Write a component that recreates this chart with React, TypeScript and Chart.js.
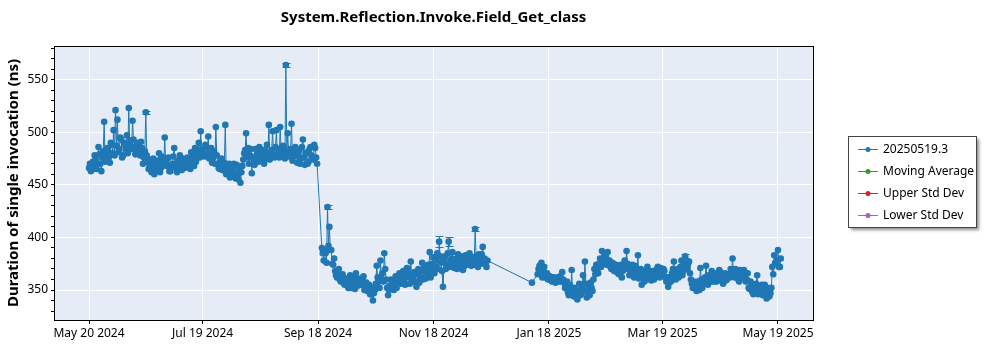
import React, { useEffect, useRef } from "react";
import { Chart, registerables } from "chart.js";

Chart.register(...registerables);

const DAY = 86400000;
const FONT = "'Noto Sans', 'Open Sans', sans-serif";

const chartTitle = "System.Reflection.Invoke.Field_Get_class";
const yAxisTitle = "Duration of single invocation (ns)";
const seriesLabels = ["20250519.3", "Moving Average", "Upper Std Dev", "Lower Std Dev"];
const seriesColors = ["#1f77b4", "#2ca02c", "#d62728", "#9467bd"];

// morning runs, May 20 2024 -> Sep 17 2024
const seg1Start = "2024-05-20";
const seg1Values = [
  466, 463, 472, 478, 465, 486, 470, 476, 510, 478,
  482, 471, 488, 502, 521, 512, 484, 493, 478, 488,
  497, 523, 492, 511, 486, 481, 490, 478, 485, 476,
  519, 472, 468, 462, 475, 465, 470, 480, 466, 472,
  495, 468, 476, 463, 470, 485, 466, 473, 478, 464,
  470, 467, 476, 472, 481, 474, 485, 478, 490, 501,
  484, 477, 486, 496, 478, 471, 482, 505, 470, 465,
  475, 468, 507, 462, 470, 458, 466, 461, 469, 455,
  452, 468, 480, 499, 485, 478, 461, 474, 484, 480,
  486, 477, 483, 474, 488, 507, 480, 501, 476, 502,
  484, 505, 478, 485, 564, 499, 481, 508, 477, 486,
  471, 483, 475, 493, 469, 481, 472, 486, 477, 488,
  476,
];
// evening runs, same days
const seg1Values2 = [
  470, 468, 465, 474, 470, 479, 463, 482, 472, 485,
  476, 490, 480, 478, 487, 481, 495, 476, 490, 484,
  480, 488, 484, 493, 479, 488, 483, 491, 470, 482,
  478, 465, 474, 470, 460, 468, 473, 462, 477, 469,
  471, 475, 463, 468, 477, 470, 462, 468, 470, 475,
  466, 474, 469, 465, 477, 468, 472, 483, 476, 482,
  479, 488, 480, 475, 485, 476, 470, 478, 466, 472,
  464, 471, 460, 467, 457, 463, 470, 456, 460, 466,
  462, 474, 483, 476, 470, 484, 476, 469, 478, 472,
  475, 481, 470, 480, 478, 474, 483, 478, 486, 479,
  476, 482, 487, 475, 480, 477, 484, 473, 481, 479,
  478, 470, 486, 476, 480, 470, 484, 478, 474, 485,
  470,
];

// morning runs, Sep 20 2024 -> Dec 16 2024
const seg2Start = "2024-09-20";
const seg2Values = [
  390, 378, 385, 429, 410, 388, 374, 368, 362, 370,
  358, 365, 355, 361, 352, 364, 358, 356, 366, 354,
  360, 357, 363, 352, 349, 355, 346, 340, 350, 373,
  358, 378, 366, 385, 360, 345, 354, 358, 350, 363,
  356, 366, 359, 368, 355, 371, 362, 377, 358, 367,
  353, 370, 362, 376, 368, 361, 374, 386, 370, 381,
  372, 385, 396, 376, 353, 382, 374, 396, 378, 386,
  371, 380, 384, 374, 378, 372, 383, 376, 385, 373,
  380, 408, 378, 384, 375, 391, 380, 372,
];
const seg2Values2 = [
  385, 388, 376, 392, 388, 375, 380, 364, 367, 360,
  363, 357, 360, 355, 360, 352, 362, 351, 358, 361,
  355, 360, 350, 357, 353, 346, 352, 347, 356, 362,
  352, 360, 358, 370, 352, 350, 360, 353, 360, 352,
  361, 356, 363, 358, 364, 367, 356, 362, 364, 358,
  365, 357, 368, 360, 372, 366, 369, 362, 375, 366,
  378, 370, 382, 368, 378, 370, 385, 372, 380, 376,
  375, 370, 378, 382, 369, 377, 380, 374, 378, 381,
  374, 382, 372, 379, 384, 376, 375, 378,
];

// single run Jan 9 2025
const seg3Start = "2025-01-09";
const seg3Values = [357];
const seg3Values2: number[] = [];

// morning runs, Jan 12 2025 -> May 20 2025
const seg4Start = "2025-01-12";
const seg4Values = [
  365, 373, 376, 368, 362, 366, 360, 362, 359, 361,
  360, 358, 363, 367, 357, 352, 348, 355, 369, 344,
  350, 341, 356, 346, 364, 377, 343, 352, 357, 349,
  370, 374, 366, 380, 387, 376, 382, 386, 378, 370,
  375, 368, 372, 365, 374, 368, 378, 387, 372, 366,
  374, 362, 370, 383, 363, 355, 368, 360, 372, 365,
  359, 368, 362, 370, 366, 371, 364, 368, 358, 353,
  362, 366, 377, 360, 370, 365, 378, 368, 382, 372,
  377, 360, 352, 357, 349, 355, 371, 352, 358, 373,
  355, 362, 368, 358, 365, 360, 369, 362, 356, 366,
  360, 365, 370, 380, 362, 367, 360, 369, 362, 369,
  358, 366, 351, 356, 346, 353, 364, 348, 352, 345,
  355, 342, 350, 347, 372, 383, 375, 388, 372,
];
const seg4Values2 = [
  370, 368, 362, 372, 366, 360, 363, 358, 362, 357,
  362, 361, 358, 360, 352, 358, 345, 350, 346, 352,
  343, 348, 345, 352, 349, 356, 348, 345, 352, 360,
  365, 368, 375, 372, 379, 383, 374, 378, 372, 376,
  368, 374, 366, 370, 362, 373, 370, 375, 364, 370,
  366, 373, 365, 361, 370, 364, 358, 366, 362, 368,
  364, 360, 366, 372, 362, 368, 370, 362, 362, 357,
  358, 370, 364, 366, 362, 372, 364, 374, 370, 375,
  366, 356, 358, 352, 358, 350, 360, 356, 362, 360,
  364, 358, 362, 366, 358, 364, 367, 358, 362, 359,
  365, 362, 368, 366, 370, 364, 358, 365, 366, 362,
  360, 352, 358, 348, 350, 356, 346, 350, 355, 348,
  346, 352, 344, 352, 365, 376, 378, 372, 380,
];

const segments: [string, number[], number[]][] = [
  [seg1Start, seg1Values, seg1Values2],
  [seg2Start, seg2Values, seg2Values2],
  [seg3Start, seg3Values, seg3Values2],
  [seg4Start, seg4Values, seg4Values2],
];

// runs with a visible error bar: [date, half-width]
const errorBars: [string, number][] = [
  ["2024-06-19", 1.5],
  ["2024-09-01", 1.5],
  ["2024-09-23", 1.5],
  ["2024-11-21", 5],
  ["2024-11-26", 4],
  ["2024-12-10", 2],
  ["2025-03-31", 2],
];

const xTickDates = ["2024-05-20", "2024-07-19", "2024-09-18", "2024-11-18", "2025-01-18", "2025-03-19", "2025-05-19"];
const xTickLabels = ["May 20 2024", "Jul 19 2024", "Sep 18 2024", "Nov 18 2024", "Jan 18 2025", "Mar 19 2025", "May 19 2025"];
const xRange = ["2024-05-01", "2025-06-06"];
const yRange = [321.5, 582];

const toMs = (s: string) => {
  const [y, m, d] = s.split("-").map(Number);
  return Date.UTC(y, m - 1, d);
};

function buildPoints() {
  const pts: { x: number; y: number }[] = [];
  segments.forEach(([start, vals, vals2]) => {
    const s = toMs(start);
    vals.forEach((v, i) => {
      pts.push({ x: s + i * DAY, y: v });
      if (i < vals2.length) pts.push({ x: s + i * DAY + DAY / 2, y: vals2[i] });
    });
  });
  return pts;
}

const decorPlugin = {
  id: "decor",
  beforeDraw(chart: any) {
    const { ctx, chartArea: a } = chart;
    ctx.save();
    ctx.fillStyle = "#E5ECF6";
    ctx.fillRect(a.left, a.top, a.right - a.left, a.bottom - a.top);
    ctx.restore();
  },
  beforeDatasetsDraw(chart: any) {
    const { ctx, scales } = chart;
    const pts = chart.data.datasets[0].data as { x: number; y: number }[];
    ctx.save();
    ctx.strokeStyle = seriesColors[0];
    ctx.lineWidth = 1;
    errorBars.forEach(([d, e]) => {
      const ms = toMs(d);
      const p = pts.find((q) => q.x === ms);
      if (!p) return;
      const x = Math.round(scales.x.getPixelForValue(ms)) + 0.5;
      const yt = Math.round(scales.y.getPixelForValue(p.y + e)) + 0.5;
      const yb = Math.round(scales.y.getPixelForValue(p.y - e)) + 0.5;
      ctx.beginPath();
      ctx.moveTo(x, yt);
      ctx.lineTo(x, yb);
      ctx.moveTo(x - 4, yt);
      ctx.lineTo(x + 4, yt);
      ctx.moveTo(x - 4, yb);
      ctx.lineTo(x + 4, yb);
      ctx.stroke();
    });
    ctx.restore();
  },
  afterDraw(chart: any) {
    const { ctx, chartArea: a } = chart;
    ctx.save();
    ctx.strokeStyle = "#000";
    ctx.lineWidth = 1;
    ctx.strokeRect(Math.round(a.left) + 0.5, Math.round(a.top) + 0.5, Math.round(a.right - a.left), Math.round(a.bottom - a.top));
    ctx.fillStyle = "#000";
    ctx.font = `bold 15px ${FONT}`;
    ctx.textAlign = "center";
    ctx.textBaseline = "middle";
    ctx.fillText(chartTitle, (a.left + a.right) / 2, 18);
    ctx.save();
    ctx.translate(14, (a.top + a.bottom) / 2);
    ctx.rotate(-Math.PI / 2);
    ctx.font = `bold 15px ${FONT}`;
    ctx.fillText(yAxisTitle, 0, 0);
    ctx.restore();
    const lx = 848, ly = 136, lw = 128, lh = 91;
    ctx.save();
    ctx.shadowColor = "rgba(0,0,0,0.45)";
    ctx.shadowBlur = 3;
    ctx.shadowOffsetX = 3;
    ctx.shadowOffsetY = 3;
    ctx.fillStyle = "#fff";
    ctx.fillRect(lx, ly, lw, lh);
    ctx.restore();
    ctx.strokeStyle = "#444";
    ctx.strokeRect(lx + 0.5, ly + 0.5, lw, lh);
    ctx.font = `12px ${FONT}`;
    ctx.textAlign = "left";
    chart.data.datasets.forEach((ds: any, i: number) => {
      const y = ly + 13 + i * 22;
      ctx.strokeStyle = ds.borderColor;
      ctx.lineWidth = 1;
      ctx.beginPath();
      ctx.moveTo(lx + 10, y + 0.5);
      ctx.lineTo(lx + 30, y + 0.5);
      ctx.stroke();
      ctx.fillStyle = ds.borderColor;
      ctx.beginPath();
      ctx.arc(lx + 20, y + 0.5, 2.5, 0, Math.PI * 2);
      ctx.fill();
      ctx.fillStyle = "#000";
      ctx.fillText(ds.label, lx + 35, y + 1);
    });
    ctx.restore();
  },
};

export default function App() {
  const ref = useRef<HTMLCanvasElement | null>(null);
  useEffect(() => {
    if (!ref.current) return;
    Chart.defaults.font.family = FONT;
    const points = buildPoints();
    const chart = new Chart(ref.current, {
      type: "line",
      data: {
        datasets: seriesLabels.map((label, i) => ({
          label,
          data: i === 0 ? points : [],
          borderColor: seriesColors[i],
          backgroundColor: seriesColors[i],
          borderWidth: 1,
          pointRadius: 3.3,
          pointBorderWidth: 0,
          pointBackgroundColor: seriesColors[i],
          tension: 0,
        })),
      },
      options: {
        animation: false,
        responsive: false,
        maintainAspectRatio: false,
        layout: { padding: { top: 46, right: 187, left: 0, bottom: 0 } },
        plugins: {
          legend: { display: false },
          title: { display: false },
          tooltip: { enabled: false },
        },
        scales: {
          x: {
            type: "linear",
            min: toMs(xRange[0]) + DAY / 2,
            max: toMs(xRange[1]) + DAY / 2,
            afterBuildTicks: (s: any) => {
              s.ticks = xTickDates.map((d) => ({ value: toMs(d) }));
            },
            afterFit: (s: any) => {
              s.height = 30;
            },
            ticks: {
              autoSkip: false,
              maxRotation: 0,
              color: "#000",
              padding: 2,
              font: { size: 12, family: FONT },
              callback: (v: any) => {
                const idx = xTickDates.findIndex((d) => toMs(d) === v);
                return idx >= 0 ? xTickLabels[idx] : "";
              },
            },
            grid: { color: "#ffffff", lineWidth: 1, drawTicks: true, tickLength: 4, tickColor: "#000" },
            border: { color: "#000", width: 1 },
          },
          y: {
            min: yRange[0],
            max: yRange[1],
            afterFit: (s: any) => {
              s.width = 54;
            },
            ticks: {
              stepSize: 10,
              includeBounds: false,
              autoSkip: false,
              color: "#000",
              padding: 3,
              font: { size: 12, family: FONT },
              callback: (v: any) => (Number(v) % 50 === 0 ? String(v) : ""),
            },
            grid: {
              color: (c: any) => (c.tick && c.tick.value % 50 === 0 ? "#ffffff" : "rgba(0,0,0,0)"),
              lineWidth: 1,
              drawTicks: true,
              tickLength: 3,
              tickColor: "#000",
            },
            border: { color: "#000", width: 1 },
          },
        },
      },
      plugins: [decorPlugin],
    } as any);
    return () => chart.destroy();
  }, []);
  return (
    <div style={{ position: "absolute", left: 0, top: 0, width: 1000, height: 350, background: "#fff" }}>
      <canvas ref={ref} width={1000} height={350} style={{ width: 1000, height: 350 }} />
    </div>
  );
}
